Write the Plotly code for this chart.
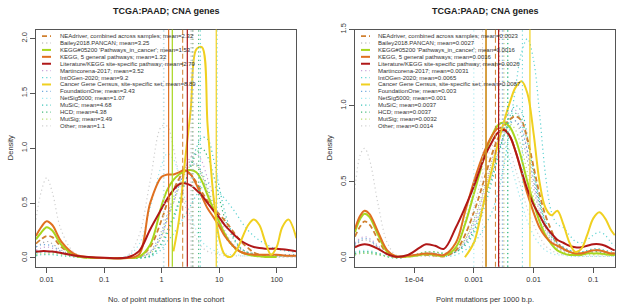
import plotly.graph_objects as go

FONT = "Liberation Sans, Arial, Helvetica, sans-serif"
W, H = 617, 305

SERIES = ["NEAdriver, combined across samples", "Bailey2018.PANCAN",
          "KEGG#05200 'Pathways_in_cancer'", "KEGG, 5 general pathways",
          "Literature/KEGG site-specific pathway", "Martincorena-2017",
          "IntOGen-2020", "Cancer Gene Census, site-specific set",
          "FoundationOne", "NetSig5000", "MuSiC", "HCD", "MutSig", "Other"]
COLORS = ["#D08030", "#A8A8A8", "#A8D61E", "#E07020", "#B01818", "#C8A2D8",
          "#5FD3D3", "#F0D020", "#6FA8DC", "#9EE8EE", "#3BC4B8", "#40B878",
          "#B8DC70", "#CFCFCF"]
STYLES = ["dash", "dot", "solid", "solid", "solid", "dot", "dot", "solid",
          "dot", "dot", "dot", "dot", "dot", "dot"]

LEFT_MEANS = [2.32, 3.25, 1.53, 1.32, 2.79, 3.52, 9.2, 8.89, 3.43, 1.07, 4.68, 4.38, 3.49, 1.1]
RIGHT_MEANS = [0.0023, 0.0027, 0.0016, 0.0016, 0.0026, 0.0031, 0.0065, 0.0087, 0.003, 0.001,
               0.0037, 0.0037, 0.0032, 0.0014]

# ---- left panel: No. of point mutations in the cohort ----
LEFT_X = [0.0065, 0.008, 0.01, 0.0125, 0.018, 0.032, 0.1, 0.25, 0.4, 0.63, 1, 1.25, 1.6, 2,
          2.5, 3.2, 4, 5, 6.3, 8, 10, 12.5, 16, 20, 25, 32, 40, 50, 63, 80, 100, 125, 160, 220]
N = None
LEFT_Y = [
    # NEAdriver
    [0.13, 0.17, 0.2, 0.19, 0.1, 0.02, 0, 0, 0.01, 0.1, 0.35, 0.5, 0.62, 0.72, 0.79, 0.76, 0.69,
     0.6, 0.52, 0.45, 0.4, 0.34, 0.27, 0.2, 0.14, 0.09, 0.05, 0.03, 0.02, 0.01, 0.005, N, N, N],
    # Bailey
    [0.1, 0.13, 0.15, 0.13, 0.07, 0.02, 0, 0, 0.01, 0.06, 0.25, 0.4, 0.55, 0.7, 0.82, 0.88, 0.86,
     0.75, 0.6, 0.45, 0.32, 0.22, 0.14, 0.09, 0.06, 0.04, 0.03, 0.02, 0.02, 0.015, 0.01, 0.01, 0.01, 0.01],
    # KEGG#05200
    [0.17, 0.23, 0.28, 0.25, 0.12, 0.02, 0, 0, 0.01, 0.12, 0.48, 0.62, 0.71, 0.76, 0.79, 0.8, 0.78,
     0.7, 0.57, 0.44, 0.33, 0.22, 0.13, 0.08, 0.05, 0.03, 0.02, 0.015, 0.01, 0.01, 0.01, N, N, N],
    # KEGG 5 general
    [0.2, 0.28, 0.335, 0.3, 0.15, 0.03, 0, 0, 0.03, 0.5, 0.74, 0.76, 0.76, 0.78, 0.8, 0.76, 0.67,
     0.56, 0.45, 0.37, 0.29, 0.2, 0.13, 0.08, 0.05, 0.035, 0.03, 0.03, 0.03, 0.03, 0.03, 0.025, 0.02, 0.02],
    # Literature
    [0.058, 0.062, 0.062, 0.058, 0.045, 0.02, 0.002, 0.005, 0.06, 0.26, 0.45, 0.54, 0.62, 0.67,
     0.68, 0.66, 0.62, 0.57, 0.5, 0.43, 0.37, 0.3, 0.24, 0.19, 0.15, 0.12, 0.1, 0.09, 0.085,
     0.085, 0.085, 0.08, 0.072, 0.06],
    # Martincorena
    [0.07, 0.09, 0.1, 0.09, 0.05, 0.01, 0, 0, 0.01, 0.05, 0.2, 0.35, 0.5, 0.66, 0.8, 0.92, 0.95,
     0.88, 0.72, 0.55, 0.38, 0.25, 0.15, 0.1, 0.07, 0.05, 0.04, 0.03, 0.03, 0.02, 0.02, 0.02, 0.02, 0.02],
    # IntOGen
    [0.04, 0.05, 0.05, 0.05, 0.04, 0.01, 0, 0, 0, 0.01, 0.08, 0.15, 0.22, 0.3, 0.38, 0.48, 0.57,
     0.64, 0.68, 0.66, 0.6, 0.54, 0.47, 0.4, 0.32, 0.25, 0.2, 0.16, 0.13, 0.1, 0.08, 0.07, 0.06, 0.05],
    # Cancer Gene Census
    [N, N, N, N, N, N, N, N, N, N, N, N, 0.06, 0.35, 0.85, 1.35, 1.9, 1.92, 1.2, 0.55, 0.18,
     0.03, 0.01, 0.07, 0.18, 0.3, 0.35, 0.3, 0.15, 0.03, 0.1, 0.28, 0.35, 0.18],
    # FoundationOne
    [0.1, 0.12, 0.12, 0.11, 0.06, 0.02, 0, 0, 0.01, 0.05, 0.22, 0.37, 0.52, 0.66, 0.78, 0.85, 0.85,
     0.78, 0.64, 0.48, 0.34, 0.22, 0.14, 0.08, 0.05, 0.04, 0.03, 0.03, 0.03, 0.03, 0.03, 0.03, 0.03, 0.03],
    # NetSig5000
    [0.04, 0.05, 0.05, 0.05, 0.03, 0.01, 0, 0.02, 0.12, 0.45, 0.85, 0.95, 0.9, 0.75, 0.55, 0.38,
     0.25, 0.15, 0.1, 0.07, 0.05, 0.04, 0.03, 0.03, 0.02, 0.02, 0.02, 0.02, 0.02, 0.02, 0.02, 0.02, 0.02, 0.02],
    # MuSiC
    [0.02, 0.03, 0.03, 0.03, 0.02, 0.01, 0, 0, 0, 0.02, 0.12, 0.22, 0.35, 0.5, 0.67, 0.85, 1.0,
     1.1, 1.08, 0.9, 0.65, 0.42, 0.25, 0.14, 0.08, 0.05, 0.04, 0.03, 0.03, 0.02, 0.02, 0.02, 0.02, 0.02],
    # HCD
    [0.05, 0.06, 0.06, 0.06, 0.04, 0.01, 0, 0, 0, 0.02, 0.14, 0.25, 0.38, 0.52, 0.68, 0.83, 0.95,
     1.0, 0.92, 0.75, 0.55, 0.36, 0.22, 0.13, 0.08, 0.05, 0.04, 0.03, 0.03, 0.03, 0.02, 0.02, 0.02, 0.02],
    # MutSig
    [0.03, 0.04, 0.04, 0.04, 0.03, 0.01, 0, 0, 0.01, 0.04, 0.2, 0.35, 0.5, 0.64, 0.76, 0.84, 0.84,
     0.76, 0.62, 0.46, 0.32, 0.2, 0.12, 0.07, 0.05, 0.04, 0.03, 0.03, 0.02, 0.02, 0.02, 0.02, 0.02, 0.02],
    # Other
    [0.35, 0.6, 0.73, 0.6, 0.25, 0.04, 0, 0.02, 0.2, 0.7, 1.2, 1.2, 1.0, 0.75, 0.5, 0.3, 0.18,
     0.1, 0.06, 0.04, 0.03, 0.02, 0.02, 0.02, 0.02, 0.02, 0.02, 0.01, 0.01, 0.01, 0.01, 0.01, 0.01, 0.01],
]

# ---- right panel: point mutations per 1000 b.p. ----
RIGHT_X = [1.02e-5, 1.26e-5, 1.48e-5, 1.78e-5, 2.5e-5, 3.55e-5, 5e-5, 7.9e-5, 1.26e-4, 1.58e-4,
           2.24e-4, 3.16e-4, 5e-4, 7.1e-4, 1e-3, 1.26e-3, 1.58e-3, 2e-3, 2.5e-3, 3.16e-3, 4e-3,
           5e-3, 6.3e-3, 7.9e-3, 1e-2, 1.26e-2, 1.58e-2, 2e-2, 2.5e-2, 3.16e-2, 4e-2, 5e-2,
           6.3e-2, 7.9e-2, 0.1, 0.126, 0.158, 0.2, 0.229]
RIGHT_Y = [
    # NEAdriver
    [0.14, 0.21, 0.24, 0.22, 0.12, 0.03, 0.005, 0.01, 0.02, 0.02, 0.015, 0.01, 0.05, 0.15, 0.3,
     0.42, 0.55, 0.68, 0.78, 0.86, 0.91, 0.93, 0.9, 0.78, 0.6, 0.42, 0.28, 0.18, 0.1, 0.06, 0.04,
     0.03, 0.03, 0.04, 0.05, 0.05, 0.04, 0.03, 0.03],
    # Bailey
    [0.08, 0.11, 0.12, 0.11, 0.07, 0.02, 0.01, 0.01, 0.02, 0.03, 0.03, 0.02, 0.05, 0.12, 0.25,
     0.37, 0.5, 0.64, 0.77, 0.87, 0.92, 0.9, 0.8, 0.64, 0.46, 0.3, 0.18, 0.11, 0.07, 0.05, 0.04,
     0.03, 0.03, 0.04, 0.05, 0.05, 0.04, 0.03, 0.03],
    # KEGG#05200
    [0.17, 0.26, 0.29, 0.27, 0.15, 0.04, 0.01, 0.01, 0.02, 0.025, 0.02, 0.015, 0.07, 0.22, 0.42,
     0.56, 0.7, 0.8, 0.87, 0.89, 0.86, 0.78, 0.65, 0.5, 0.36, 0.24, 0.15, 0.09, 0.05, 0.03, 0.02,
     0.02, 0.02, 0.03, 0.03, 0.03, 0.025, 0.02, 0.02],
    # KEGG 5 general
    [0.19, 0.28, 0.31, 0.29, 0.17, 0.05, 0.01, 0.015, 0.025, 0.03, 0.025, 0.02, 0.1, 0.3, 0.5,
     0.62, 0.72, 0.8, 0.85, 0.85, 0.8, 0.7, 0.56, 0.42, 0.3, 0.2, 0.14, 0.1, 0.08, 0.06, 0.04,
     0.03, 0.03, 0.04, 0.05, 0.05, 0.04, 0.03, 0.03],
    # Literature
    [0.07, 0.085, 0.09, 0.085, 0.06, 0.025, 0.008, 0.02, 0.07, 0.09, 0.08, 0.06, 0.2, 0.33, 0.47,
     0.58, 0.68, 0.76, 0.82, 0.84, 0.8, 0.7, 0.57, 0.45, 0.35, 0.28, 0.21, 0.16, 0.12, 0.1, 0.08,
     0.07, 0.07, 0.08, 0.09, 0.09, 0.08, 0.06, 0.05],
    # Martincorena
    [0.1, 0.13, 0.14, 0.13, 0.08, 0.02, 0.01, 0.01, 0.02, 0.03, 0.03, 0.02, 0.04, 0.1, 0.22,
     0.33, 0.46, 0.6, 0.75, 0.88, 0.96, 0.97, 0.88, 0.7, 0.5, 0.32, 0.2, 0.12, 0.08, 0.05, 0.04,
     0.03, 0.03, 0.03, 0.04, 0.04, 0.03, 0.03, 0.03],
    # IntOGen
    [0.03, 0.04, 0.04, 0.04, 0.03, 0.01, 0.0, 0.01, 0.02, 0.02, 0.02, 0.01, 0.02, 0.05, 0.1,
     0.15, 0.22, 0.3, 0.42, 0.6, 0.85, 1.12, 1.35, 1.44, 1.3, 0.95, 0.55, 0.3, 0.22, 0.2, 0.15,
     0.11, 0.1, 0.12, 0.15, 0.17, 0.15, 0.1, 0.08],
    # Cancer Gene Census
    [N, N, N, N, N, N, N, N, N, N, N, N, N, 0.005, 0.1, 0.25, 0.42, 0.58, 0.74, 0.89, 1.02, 1.12,
     1.16, 1.08, 0.82, 0.5, 0.33, 0.28, 0.31, 0.22, 0.1, 0.04, 0.06, 0.15, 0.26, 0.3, 0.26, 0.18, 0.15],
    # FoundationOne
    [0.09, 0.12, 0.13, 0.12, 0.07, 0.02, 0.01, 0.01, 0.02, 0.03, 0.03, 0.02, 0.04, 0.1, 0.2,
     0.3, 0.42, 0.55, 0.68, 0.8, 0.88, 0.9, 0.84, 0.7, 0.52, 0.35, 0.22, 0.14, 0.1, 0.07, 0.05,
     0.04, 0.04, 0.04, 0.05, 0.05, 0.04, 0.03, 0.03],
    # NetSig5000
    [0.04, 0.05, 0.05, 0.05, 0.03, 0.01, 0.0, 0.01, 0.02, 0.02, 0.02, 0.02, 0.1, 0.25, 0.45,
     0.6, 0.72, 0.8, 0.82, 0.76, 0.64, 0.5, 0.36, 0.24, 0.15, 0.09, 0.05, 0.03, 0.02, 0.02, 0.01,
     0.01, 0.01, 0.01, 0.01, 0.01, 0.01, 0.01, 0.01],
    # MuSiC
    [0.02, 0.03, 0.03, 0.03, 0.02, 0.01, 0.0, 0.01, 0.03, 0.04, 0.04, 0.03, 0.04, 0.08, 0.16,
     0.25, 0.36, 0.5, 0.65, 0.8, 0.93, 1.0, 0.96, 0.8, 0.58, 0.38, 0.24, 0.15, 0.1, 0.07, 0.05,
     0.04, 0.04, 0.05, 0.06, 0.06, 0.05, 0.04, 0.03],
    # HCD
    [0.03, 0.04, 0.04, 0.04, 0.03, 0.01, 0.0, 0.01, 0.03, 0.04, 0.04, 0.03, 0.04, 0.09, 0.18,
     0.28, 0.4, 0.53, 0.67, 0.8, 0.9, 0.95, 0.9, 0.76, 0.56, 0.37, 0.23, 0.14, 0.09, 0.06, 0.04,
     0.03, 0.03, 0.03, 0.04, 0.04, 0.03, 0.03, 0.02],
    # MutSig
    [0.02, 0.03, 0.03, 0.03, 0.02, 0.01, 0.0, 0.01, 0.03, 0.04, 0.04, 0.03, 0.05, 0.12, 0.24,
     0.35, 0.48, 0.62, 0.75, 0.85, 0.88, 0.84, 0.72, 0.56, 0.4, 0.26, 0.16, 0.1, 0.06, 0.04, 0.03,
     0.02, 0.02, 0.02, 0.02, 0.02, 0.02, 0.02, 0.02],
    # Other
    [0.45, 0.68, 0.72, 0.65, 0.35, 0.1, 0.02, 0.01, 0.01, 0.01, 0.01, 0.02, 0.06, 0.15, 0.33,
     0.48, 0.62, 0.73, 0.78, 0.77, 0.7, 0.58, 0.45, 0.32, 0.22, 0.14, 0.08, 0.05, 0.03, 0.02,
     0.02, 0.01, 0.01, 0.01, 0.01, 0.01, 0.01, 0.01, 0.01],
]

LEFT_TICKS = [0.01, 0.1, 1, 10, 100]
LEFT_TICKTEXT = ["0.01", "0.1", "1", "10", "100"]
RIGHT_TICKS = [1e-4, 1e-3, 1e-2, 1e-1]
RIGHT_TICKTEXT = ["1e-04", "0.001", "0.01", "0.1"]
LEFT_YTICKS = [0, 0.5, 1, 1.5, 2]
RIGHT_YTICKS = [0, 0.5, 1, 1.5]

TITLE = "TCGA:PAAD; CNA genes"
LEFT_XTITLE = "No. of point mutations in the cohort"
RIGHT_XTITLE = "Point mutations per 1000 b.p."

DASHES = {"solid": "solid", "dot": "1.2px,3px", "dash": "5px,3px"}
WIDTHS = {"solid": 2.0, "dot": 1.2, "dash": 1.8}
DRAW_ORDER = [1, 5, 6, 8, 9, 10, 11, 12, 13, 0, 2, 3, 4, 7]

fig = go.Figure()

# pixel layout of the two plot regions
PL = dict(left=(36, 296), right=(355, 615))
TOP, BOT = 24, 266


def px(x):
    return x / W


def py(y):
    return 1 - y / H


panels = [("x", "y", LEFT_X, LEFT_Y), ("x2", "y2", RIGHT_X, RIGHT_Y)]
for xa, ya, xs, ys in panels:
    for i in DRAW_ORDER:
        st = STYLES[i]
        fig.add_trace(go.Scatter(
            x=xs, y=ys[i], xaxis=xa, yaxis=ya, mode="lines",
            line=dict(color=COLORS[i], width=WIDTHS[st], dash=DASHES[st],
                      shape="spline", smoothing=1.0),
            showlegend=False, hoverinfo="skip"))

shapes = []
# mean lines
for xr, yr, means in [("x", "y domain", LEFT_MEANS), ("x2", "y2 domain", RIGHT_MEANS)]:
    for i in DRAW_ORDER:
        st = STYLES[i]
        shapes.append(dict(type="line", xref=xr, yref=yr, x0=means[i], x1=means[i], y0=0, y1=1,
                           line=dict(color=COLORS[i], width=1.2 if st == "solid" else 1.0,
                                     dash=DASHES[st]), layer="above"))

annotations = []
# legends
for (lx0, lx1, tx), means in [((42, 51, 57.5), LEFT_MEANS), ((361, 370, 376), RIGHT_MEANS)]:
    for i, name in enumerate(SERIES):
        yy = 30.7 + 7.05 * i
        st = STYLES[i]
        shapes.append(dict(type="line", xref="paper", yref="paper", x0=px(lx0), x1=px(lx1),
                           y0=py(yy), y1=py(yy),
                           line=dict(color=COLORS[i], width=WIDTHS[st], dash=DASHES[st])))
        annotations.append(dict(xref="paper", yref="paper", x=px(tx), y=py(yy),
                                xanchor="left", yanchor="middle", showarrow=False,
                                text=f"{name}; mean={means[i]}",
                                font=dict(family=FONT, size=6.0, color="#333333")))

for (a, b), xt in [(PL["left"], LEFT_XTITLE), (PL["right"], RIGHT_XTITLE)]:
    cx = (a + b) / 2
    annotations.append(dict(xref="paper", yref="paper", x=px(cx), y=py(5.5), showarrow=False,
                            xanchor="center", yanchor="middle", text=f"<b>{TITLE}</b>",
                            font=dict(family=FONT, size=9.0, color="#222222")))
    annotations.append(dict(xref="paper", yref="paper", x=px(cx), y=py(299), showarrow=False,
                            xanchor="center", yanchor="middle", text=xt,
                            font=dict(family=FONT, size=7.5, color="#333333")))
for xx in (10, 329):
    annotations.append(dict(xref="paper", yref="paper", x=px(xx), y=py((TOP + BOT) / 2),
                            showarrow=False, xanchor="center", yanchor="middle", text="Density",
                            textangle=-90, font=dict(family=FONT, size=7.5, color="#333333")))

axis_common = dict(showline=True, mirror=True, linecolor="#555555", linewidth=1,
                   ticks="outside", ticklen=5, tickcolor="#555555", showgrid=False,
                   zeroline=False, tickfont=dict(family=FONT, size=7.5, color="#333333"))

fig.update_layout(
    width=W, height=H, margin=dict(l=0, r=0, t=0, b=0),
    paper_bgcolor="white", plot_bgcolor="white", showlegend=False,
    xaxis=dict(type="log", range=[-2.186, 2.336], domain=[px(36), px(296)],
               tickvals=LEFT_TICKS, ticktext=LEFT_TICKTEXT, anchor="y", **axis_common),
    yaxis=dict(range=[-0.08, 2.08], domain=[py(BOT), py(TOP)], tickvals=LEFT_YTICKS,
               ticktext=[f"{v:.1f}" for v in LEFT_YTICKS], tickangle=-90, anchor="x",
               **axis_common),
    xaxis2=dict(type="log", range=[-4.99, -0.636], domain=[px(355), px(615)],
                tickvals=RIGHT_TICKS, ticktext=RIGHT_TICKTEXT, anchor="y2", **axis_common),
    yaxis2=dict(range=[-0.0577, 1.5], domain=[py(BOT), py(TOP)], tickvals=RIGHT_YTICKS,
                ticktext=[f"{v:.1f}" for v in RIGHT_YTICKS], tickangle=-90, anchor="x2",
                **axis_common),
    shapes=shapes, annotations=annotations,
)

fig.write_html("out.html", config={"displayModeBar": False},
               post_script="document.body.style.margin='0px';document.body.style.overflow='hidden';")
